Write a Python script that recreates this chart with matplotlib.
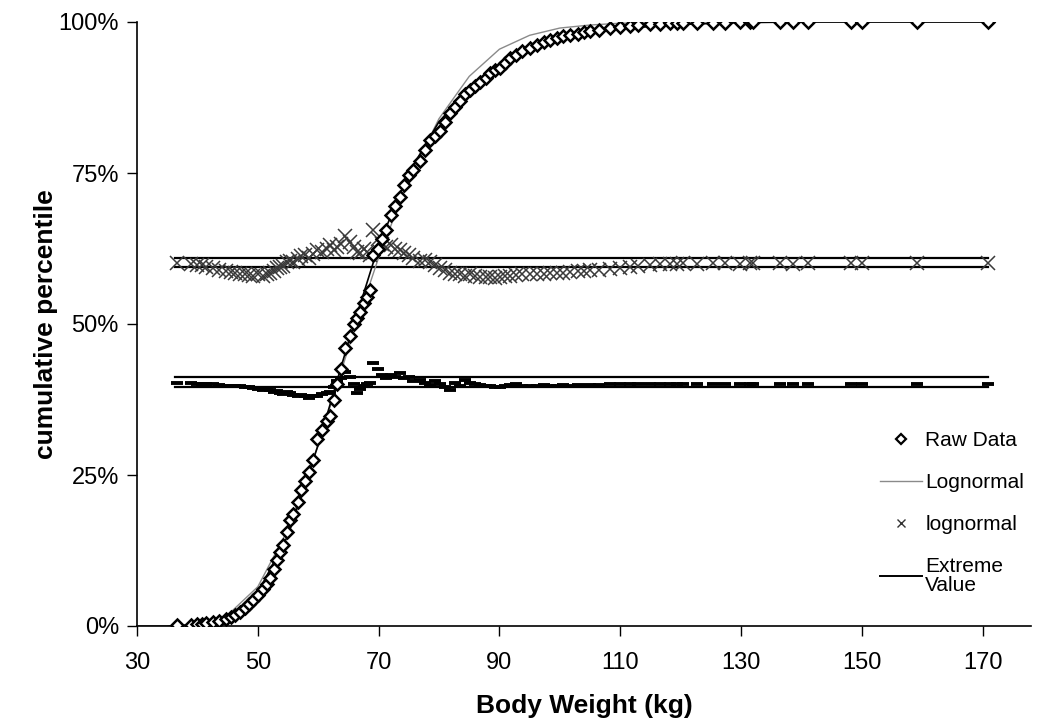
import matplotlib
matplotlib.use("Agg")
import matplotlib.pyplot as plt
from matplotlib.lines import Line2D
from matplotlib.ticker import FuncFormatter

plt.rcParams['font.family'] = ['Liberation Sans', 'DejaVu Sans']

# Raw data: body weight (kg) and cumulative percentile (%)
weight = [36.6, 38.9, 40.0, 40.7, 41.5, 42.6, 43.5, 44.8, 45.5, 46.2, 47.0, 47.8, 48.5, 49.2,
          50.0, 50.9, 51.5, 52.0, 52.6, 53.1, 53.7, 54.2, 54.8, 55.3, 55.9, 56.6, 57.2, 57.8,
          58.4, 59.1, 59.8, 60.6, 61.4, 62.0, 62.6, 63.1, 63.7, 64.4, 65.3, 66.0, 66.4, 66.9,
          67.5, 68.0, 68.6, 69.1, 69.9, 70.5, 71.3, 72.0, 72.7, 73.5, 74.2, 75.0, 75.7, 76.9,
          77.6, 78.5, 79.3, 80.2, 81.0, 81.8, 82.6, 83.5, 84.3, 85.1, 86.0, 86.8, 87.7, 88.5,
          89.3, 90.1, 91.0, 91.8, 92.8, 93.8, 95.0, 96.2, 97.3, 98.4, 99.5, 100.6, 101.7, 103.0,
          104.0, 105.0, 106.5, 108.3, 110.0, 111.6, 113.0, 115.0, 116.6, 118.2, 119.4, 120.4,
          122.7, 125.4, 127.4, 129.8, 131.5, 132.0, 136.5, 138.6, 141.1, 148.2, 150.1, 159.2, 170.8]
cum_pct = [0.1, 0.2, 0.3, 0.3, 0.5, 0.6, 0.8, 1.1, 1.5, 1.9, 2.4, 3.0, 3.7, 4.3,
           5.2, 6.1, 7.0, 8.0, 9.5, 11.0, 12.2, 13.4, 15.5, 17.5, 18.5, 20.5, 22.5, 24.0,
           25.5, 27.5, 31.0, 32.5, 34.0, 34.7, 37.5, 40.0, 42.5, 46.0, 48.0, 50.0, 51.0, 52.0,
           53.5, 54.5, 55.6, 61.4, 62.5, 64.0, 65.6, 68.0, 69.5, 71.0, 73.0, 74.7, 75.5, 77.0,
           78.8, 80.5, 81.2, 82.0, 83.5, 85.0, 86.0, 87.0, 88.0, 88.7, 89.4, 90.0, 90.8, 91.5,
           92.0, 92.4, 93.2, 94.0, 94.6, 95.2, 95.7, 96.2, 96.7, 97.0, 97.3, 97.6, 97.8, 98.0,
           98.3, 98.5, 98.7, 99.0, 99.2, 99.4, 99.5, 99.6, 99.7, 99.8, 99.8, 99.85,
           99.9, 99.9, 99.9, 99.95, 99.95, 99.95, 100.0, 100.0, 100.0, 100.0, 100.0, 100.0, 100.0]
# lognormal residual markers (offset to ~60%)
lognormal_resid = [60.1, 60.0, 59.8, 59.7, 59.5, 59.2, 59.0, 58.8, 58.6, 58.4, 58.3, 58.2, 58.1, 58.0,
                   58.2, 58.0, 58.3, 58.5, 58.8, 59.2, 59.4, 59.6, 60.2, 60.5, 60.3, 60.8, 61.2, 61.4,
                   61.0, 61.6, 62.3, 62.0, 62.5, 63.0, 62.2, 62.8, 63.2, 64.5, 63.5, 62.8, 62.0, 61.8,
                   62.4, 62.0, 61.5, 65.5, 64.0, 63.2, 62.8, 63.0, 62.5, 62.2, 61.8, 61.5, 61.0, 60.5,
                   60.6, 60.3, 59.8, 59.3, 59.0, 58.5, 58.3, 58.2, 58.0, 58.2, 58.0, 57.8, 57.8, 57.7,
                   57.6, 57.8, 57.9, 58.0, 58.1, 58.2, 58.2, 58.3, 58.3, 58.4, 58.4, 58.5, 58.6, 58.7,
                   58.8, 58.9, 59.0, 59.1, 59.3, 59.4, 59.6, 59.8, 59.9, 60.0, 60.0, 60.1,
                   60.0, 60.1, 60.1, 60.0, 60.1, 60.1, 60.1, 60.0, 60.1, 60.1, 60.1, 60.1, 60.1]
# extreme value residual markers (offset to ~40%)
ev_resid = [40.2, 40.2, 40.1, 40.1, 40.0, 40.0, 39.9, 39.8, 39.7, 39.7, 39.8, 39.6, 39.5, 39.4,
            39.3, 39.1, 39.3, 39.0, 38.8, 38.9, 38.6, 38.4, 38.7, 38.5, 38.2, 38.0, 38.3, 38.1,
            37.8, 38.0, 38.1, 38.4, 38.6, 38.8, 39.5, 40.5, 41.0, 42.1, 41.2, 40.0, 38.6, 39.2,
            39.8, 40.0, 40.2, 43.6, 42.5, 41.5, 41.0, 41.5, 41.2, 41.9, 41.0, 41.3, 40.6, 40.8,
            40.2, 39.9, 40.5, 40.0, 39.6, 39.1, 40.2, 39.8, 40.7, 40.3, 40.0, 39.9, 39.8, 39.7,
            39.6, 39.5, 39.7, 39.9, 40.0, 39.8, 39.7, 39.8, 39.9, 39.7, 39.8, 39.9, 39.8, 39.9,
            39.8, 39.9, 39.9, 40.0, 40.0, 40.0, 40.1, 40.1, 40.1, 40.1, 40.1, 40.1,
            40.1, 40.1, 40.1, 40.1, 40.1, 40.1, 40.1, 40.1, 40.1, 40.1, 40.1, 40.1, 40.1]

# fitted curves
fit_x = [30, 35, 40, 45, 50, 55, 60, 65, 70, 75, 80, 85, 90, 95, 100, 105, 110, 120, 130, 140, 170.8]
lognormal_fit = [0.0, 0.0, 0.3, 1.8, 6.5, 16.0, 30.0, 46.0, 61.0, 74.0, 84.0, 91.0, 95.5, 97.8,
                 99.0, 99.5, 99.8, 100.0, 100.0, 100.0, 100.0]
extreme_fit = [0.0, 0.0, 0.2, 1.5, 5.5, 15.0, 30.0, 47.0, 63.0, 75.0, 83.5, 89.0, 92.8, 95.3,
               97.0, 98.2, 98.9, 99.6, 99.9, 100.0, 100.0]

# reference bands
band_x = [36.3, 170.8]
band_upper = [59.4, 61.0]
band_lower = [39.5, 41.2]

fig = plt.figure(figsize=(10.38, 7.23), dpi=100)
ax = fig.add_axes([137/1038, 1 - 626/723, 894/1038, 604/723])

for yv in band_upper + band_lower:
    ax.plot(band_x, [yv, yv], color='black', lw=1.6, zorder=2)

ax.plot(fit_x, lognormal_fit, color='#8a8a8a', lw=1.0, zorder=3)
ax.plot(fit_x, extreme_fit, color='black', lw=1.2, zorder=3)

ax.plot(weight, lognormal_resid, ls='none', marker='x', ms=10, mew=1.1,
        color='#3a3a3a', zorder=4)
ax.plot(weight, ev_resid, ls='none', marker='_', ms=8, mew=2.8, color='black', zorder=4)
ax.plot(weight, cum_pct, ls='none', marker='D', ms=6.5, mfc='white', mec='black',
        mew=1.8, zorder=5)

ax.set_xlim(30, 178)
ax.set_ylim(0, 100)
ax.set_xticks([30, 50, 70, 90, 110, 130, 150, 170])
ax.set_yticks([0, 25, 50, 75, 100])
ax.yaxis.set_major_formatter(FuncFormatter(lambda v, p: f"{int(v)}%"))
ax.tick_params(axis='both', direction='out', length=7, width=1, labelsize=17)
ax.tick_params(axis='x', pad=12)
ax.tick_params(axis='y', pad=6)
ax.spines['top'].set_visible(False)
ax.spines['right'].set_visible(False)
ax.spines['left'].set_linewidth(1.2)
ax.spines['bottom'].set_linewidth(1.2)

ax.set_xlabel('Body Weight (kg)', fontsize=19, fontweight='bold', labelpad=14)
ax.set_ylabel('cumulative percentile', fontsize=19, fontweight='bold', labelpad=0)

handles = [
    Line2D([], [], ls='none', marker='D', ms=5, mfc='white', mec='black', mew=1.6),
    Line2D([], [], color='#8a8a8a', lw=1.0),
    Line2D([], [], ls='none', marker='x', ms=6, mew=1.0, color='#333333'),
    Line2D([], [], color='black', lw=1.4),
]
labels = ['Raw Data', 'Lognormal', 'lognormal', 'Extreme\nValue']
fig.legend(handles, labels, loc='upper left', bbox_to_anchor=(870/1038, 1 - 421/723),
           frameon=False, fontsize=15, handlelength=2.0, handletextpad=0.15,
           labelspacing=1.1, borderpad=0)
for t in fig.legends[0].get_texts():
    t.set_linespacing(1.0)

fig.savefig('out.png', dpi=100)
